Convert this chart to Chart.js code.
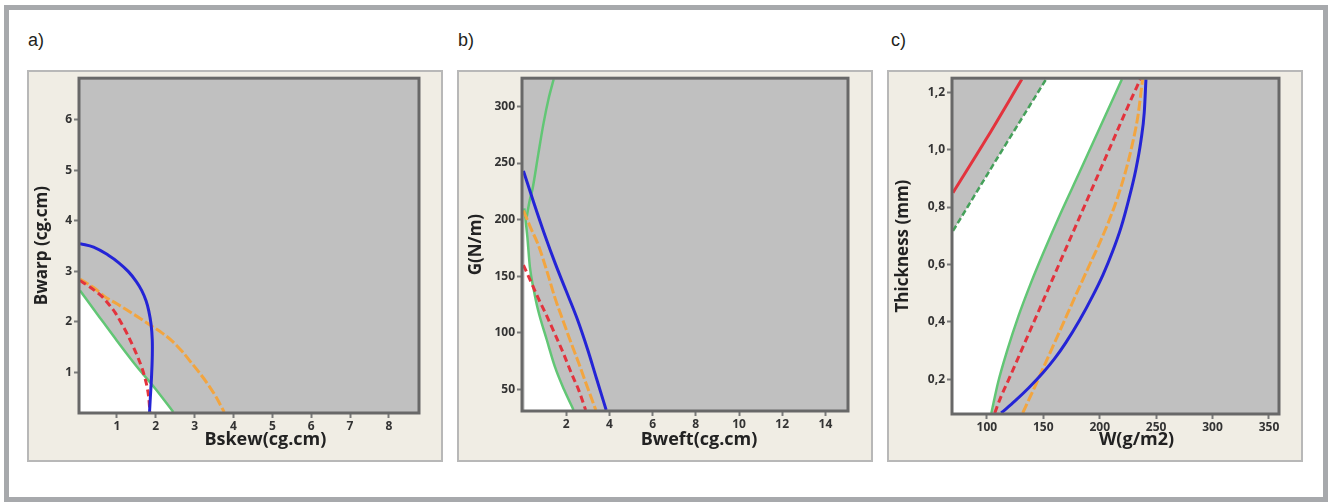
<!DOCTYPE html>
<html>
<head>
<meta charset="utf-8">
<script src="https://cdn.jsdelivr.net/npm/chart.js@4.4.1/dist/chart.umd.min.js"></script>
<style>
  html, body { margin: 0; padding: 0; background: #fff; }
  body { width: 1328px; height: 502px; position: relative; overflow: hidden; font-family: 'Liberation Sans', Arial, sans-serif; }
  .frame { position: absolute; left: 4px; top: 5px; width: 1324px; height: 497px; box-sizing: border-box; border: 5px solid #a7a9ac; }
  .tag { position: absolute; top: 30px; font-size: 18px; color: #231f20; }
  .panel { position: absolute; top: 70px; width: 416px; height: 392px; background: #f0ede4; box-shadow: inset 0 0 0 2px #b8b8b8; }
  .panel canvas { position: absolute; left: 0; top: 0; }
</style>
</head>
<body>
<div class="frame"></div>
<div class="tag" style="left:28px">a)</div>
<div class="tag" style="left:458px">b)</div>
<div class="tag" style="left:891px">c)</div>
<div class="panel" style="left:27px"><canvas id="chartA" width="416" height="392"></canvas></div>
<div class="panel" style="left:457px"><canvas id="chartB" width="416" height="392"></canvas></div>
<div class="panel" style="left:887px"><canvas id="chartC" width="416" height="392"></canvas></div>

<script>
'use strict';

const PLOT_GRAY = '#c0c0c0';
const BLUE = '#2424d6';
const RED = '#e3333d';
const ORANGE = '#f2a540';
const GREEN = '#62c675';
const DARK_GREEN = '#45a05a';

// ---- a) Bskew vs Bwarp ----
const A_X_RANGE = [0.05, 8.75];
const A_Y_RANGE = [0.22, 6.8];
const A_X_TICKS = [1, 2, 3, 4, 5, 6, 7, 8];
const A_Y_TICKS = [1, 2, 3, 4, 5, 6];
const A_BLUE = [
    {x: 0.05, y: 3.55}, {x: 0.4, y: 3.48}, {x: 0.78, y: 3.32}, {x: 1.05, y: 3.17}, {x: 1.29, y: 3.0},
    {x: 1.5, y: 2.8}, {x: 1.64, y: 2.62}, {x: 1.75, y: 2.42}, {x: 1.82, y: 2.22}, {x: 1.88, y: 1.95},
    {x: 1.91, y: 1.65}, {x: 1.91, y: 1.3}, {x: 1.89, y: 0.9}, {x: 1.86, y: 0.5}, {x: 1.84, y: 0.22}
];
const A_ORANGE = [
    {x: 0.05, y: 2.85}, {x: 0.4, y: 2.68}, {x: 0.69, y: 2.5}, {x: 1.0, y: 2.36}, {x: 1.29, y: 2.22},
    {x: 1.6, y: 2.07}, {x: 1.85, y: 1.94}, {x: 2.15, y: 1.79}, {x: 2.41, y: 1.63}, {x: 2.7, y: 1.4},
    {x: 2.93, y: 1.18}, {x: 3.14, y: 0.98}, {x: 3.35, y: 0.76}, {x: 3.55, y: 0.52}, {x: 3.76, y: 0.22}
];
const A_RED = [
    {x: 0.05, y: 2.82}, {x: 0.25, y: 2.72}, {x: 0.43, y: 2.62}, {x: 0.62, y: 2.5}, {x: 0.78, y: 2.36},
    {x: 0.96, y: 2.18}, {x: 1.12, y: 1.97}, {x: 1.28, y: 1.74}, {x: 1.42, y: 1.51}, {x: 1.54, y: 1.3},
    {x: 1.64, y: 1.1}, {x: 1.72, y: 0.9}, {x: 1.78, y: 0.7}, {x: 1.82, y: 0.5}, {x: 1.85, y: 0.22}
];
const A_GREEN = [
    {x: 0.05, y: 2.62}, {x: 0.5, y: 2.15}, {x: 1.0, y: 1.63}, {x: 1.5, y: 1.13}, {x: 2.0, y: 0.67},
    {x: 2.45, y: 0.22}
];

// ---- b) Bweft vs G ----
const B_X_RANGE = [0, 15];
const B_Y_RANGE = [32, 324];
const B_X_TICKS = [2, 4, 6, 8, 10, 12, 14];
const B_Y_TICKS = [50, 100, 150, 200, 250, 300];
const B_BLUE = [
    {x: 0.02, y: 243}, {x: 0.5, y: 215}, {x: 1.0, y: 187}, {x: 1.5, y: 161}, {x: 2.0, y: 137},
    {x: 2.5, y: 113}, {x: 3.0, y: 85}, {x: 3.4, y: 60}, {x: 3.85, y: 32}
];
const B_ORANGE = [
    {x: 0.02, y: 208}, {x: 0.35, y: 193}, {x: 0.7, y: 178}, {x: 1.1, y: 155}, {x: 1.48, y: 131},
    {x: 1.87, y: 110}, {x: 2.25, y: 90}, {x: 2.57, y: 74}, {x: 2.87, y: 58}, {x: 3.37, y: 32}
];
const B_RED = [
    {x: 0.02, y: 160}, {x: 0.35, y: 146}, {x: 0.7, y: 131}, {x: 1.1, y: 115}, {x: 1.48, y: 99},
    {x: 1.87, y: 82}, {x: 2.25, y: 64}, {x: 2.57, y: 50}, {x: 2.9, y: 32}
];
const B_GREEN_LOW = [
    {x: 0.06, y: 210}, {x: 0.2, y: 185}, {x: 0.32, y: 158}, {x: 0.5, y: 138}, {x: 0.7, y: 120},
    {x: 1.1, y: 94}, {x: 1.48, y: 70}, {x: 1.9, y: 50}, {x: 2.34, y: 32}
];
const B_GREEN_HIGH = [
    {x: 0.15, y: 200}, {x: 0.3, y: 216}, {x: 0.45, y: 228}, {x: 0.7, y: 257}, {x: 0.95, y: 285},
    {x: 1.2, y: 308}, {x: 1.42, y: 324}
];

// ---- c) W vs Thickness ----
const C_X_RANGE = [70, 358];
const C_Y_RANGE = [0.083, 1.245];
const C_X_TICKS = [100, 150, 200, 250, 300, 350];
const C_Y_TICKS = [0.2, 0.4, 0.6, 0.8, 1.0, 1.2];
const C_RED_UPPER = [{x: 70, y: 0.85}, {x: 100, y: 1.04}, {x: 131, y: 1.245}];
const C_GREEN_UPPER = [{x: 70, y: 0.717}, {x: 110, y: 0.975}, {x: 152.5, y: 1.245}];
const C_GREEN = [
    {x: 104, y: 0.083}, {x: 110, y: 0.19}, {x: 118, y: 0.3}, {x: 128, y: 0.42}, {x: 139, y: 0.535},
    {x: 150, y: 0.64}, {x: 165, y: 0.775}, {x: 182, y: 0.92}, {x: 200, y: 1.075}, {x: 219.7, y: 1.245}
];
const C_RED = [
    {x: 107, y: 0.083}, {x: 112, y: 0.135}, {x: 120, y: 0.205}, {x: 135, y: 0.34}, {x: 150, y: 0.475},
    {x: 165, y: 0.61}, {x: 180, y: 0.745}, {x: 195, y: 0.88}, {x: 210, y: 1.015}, {x: 225, y: 1.15},
    {x: 236, y: 1.245}
];
const C_ORANGE = [
    {x: 131.8, y: 0.083}, {x: 142, y: 0.17}, {x: 152.5, y: 0.262}, {x: 166, y: 0.38}, {x: 179, y: 0.495},
    {x: 190, y: 0.59}, {x: 200, y: 0.675}, {x: 208, y: 0.75}, {x: 216, y: 0.835}, {x: 223, y: 0.925},
    {x: 229, y: 1.02}, {x: 234, y: 1.12}, {x: 238, y: 1.245}
];
const C_BLUE = [
    {x: 112.7, y: 0.083}, {x: 125, y: 0.125}, {x: 137, y: 0.17}, {x: 149.5, y: 0.222}, {x: 160, y: 0.272},
    {x: 170, y: 0.328}, {x: 182, y: 0.405}, {x: 193.7, y: 0.49}, {x: 203, y: 0.565}, {x: 211.4, y: 0.645},
    {x: 219, y: 0.73}, {x: 226, y: 0.83}, {x: 232, y: 0.93}, {x: 236.5, y: 1.03}, {x: 239.5, y: 1.13},
    {x: 241, y: 1.245}
];

const TICK_FONT = { family: "'Open Sans', sans-serif", size: 12, weight: 'bold' };
const X_TITLE_FONT = { family: "'Open Sans', sans-serif", size: 18, weight: 'bold', lineHeight: 1.2 };
const Y_TITLE_FONT = { family: "'Open Sans', sans-serif", size: 17, weight: 'bold', lineHeight: 1.2 };

// gray plot background + dark frame around the chart area
const plotFrame = {
    id: 'plotFrame',
    beforeDatasetsDraw(chart) {
        const { ctx, chartArea: a } = chart;
        ctx.save();
        ctx.fillStyle = PLOT_GRAY;
        ctx.fillRect(a.left, a.top, a.width, a.height);
        ctx.restore();
    },
    afterDatasetsDraw(chart) {
        const { ctx, chartArea: a } = chart;
        ctx.save();
        ctx.strokeStyle = '#686868';
        ctx.lineWidth = 3;
        ctx.strokeRect(a.left - 1, a.top - 1, a.width + 2, a.height + 2);
        ctx.restore();
    }
};

function curve(data, color, opts) {
    return Object.assign({
        data: data,
        borderColor: color,
        borderWidth: 3,
        pointRadius: 0,
        cubicInterpolationMode: 'monotone',
        fill: false
    }, opts || {});
}

function axis(p) {
    return {
        type: 'linear',
        min: p.range[0],
        max: p.range[1],
        afterBuildTicks: s => { s.ticks = p.ticks.map(v => ({ value: v })); },
        afterFit: p.fit,
        grid: { drawOnChartArea: false, drawTicks: true, tickLength: 6, tickColor: '#7a7a7a', tickWidth: 2 },
        border: { display: false },
        ticks: { color: '#333', font: TICK_FONT, padding: p.pad, callback: p.fmt },
        title: { display: true, text: p.title, color: '#222', font: p.font, padding: p.titlePad }
    };
}

function makeChart(id, p) {
    return new Chart(document.getElementById(id), {
        type: 'line',
        data: { datasets: p.datasets },
        options: {
            responsive: false,
            animation: false,
            layout: { padding: { top: 8, right: p.padRight, left: 0, bottom: 0 } },
            plugins: { legend: { display: false }, tooltip: { enabled: false } },
            scales: {
                x: axis({
                    range: p.xRange, ticks: p.xTicks, pad: 1, fmt: p.xFmt,
                    fit: s => { s.height = p.bottom; },
                    // leading spaces push the title right, as in the original figure
                    title: ' '.repeat(p.xShift) + p.xTitle, font: X_TITLE_FONT, titlePad: { top: 0, bottom: 11 }
                }),
                y: axis({
                    range: p.yRange, ticks: p.yTicks, pad: 2, fmt: p.yFmt,
                    fit: s => { s.width = p.left; },
                    title: p.yTitle, font: Y_TITLE_FONT, titlePad: { top: p.yTitlePad, bottom: 0 }
                })
            }
        },
        plugins: [plotFrame]
    });
}

const plain = v => String(v);
const comma = v => v.toFixed(1).replace('.', ',');

const ORANGE_STYLE = { borderDash: [10, 3], borderWidth: 3 };
const RED_STYLE = { borderDash: [7, 4] };

makeChart('chartA', {
    xRange: A_X_RANGE, yRange: A_Y_RANGE, xTicks: A_X_TICKS, yTicks: A_Y_TICKS,
    xFmt: plain, yFmt: plain,
    xTitle: 'Bskew(cg.cm)', yTitle: 'Bwarp (cg.cm)', xShift: 7, yTitlePad: 5,
    left: 53, bottom: 50, padRight: 25,
    datasets: [
        // the blue curve turns back in x, so a plain bezier is used here
        curve(A_BLUE, BLUE, { cubicInterpolationMode: 'default', tension: 0.4 }),
        curve(A_RED, RED, RED_STYLE),
        curve(A_ORANGE, ORANGE, ORANGE_STYLE),
        curve(A_GREEN, GREEN, { borderWidth: 2.5, fill: 'start', backgroundColor: '#ffffff' })
    ]
});

makeChart('chartB', {
    xRange: B_X_RANGE, yRange: B_Y_RANGE, xTicks: B_X_TICKS, yTicks: B_Y_TICKS,
    xFmt: plain, yFmt: plain,
    xTitle: 'Bweft(cg.cm)', yTitle: 'G(N/m)', xShift: 6, yTitlePad: 9,
    left: 66, bottom: 52, padRight: 26,
    datasets: [
        curve(B_BLUE, BLUE),
        curve(B_ORANGE, ORANGE, ORANGE_STYLE),
        curve(B_RED, RED, RED_STYLE),
        curve(B_GREEN_HIGH, GREEN, { borderWidth: 2.5 }),
        curve(B_GREEN_LOW, GREEN, { borderWidth: 2.5, fill: 'start', backgroundColor: '#ffffff' })
    ]
});

makeChart('chartC', {
    xRange: C_X_RANGE, yRange: C_Y_RANGE, xTicks: C_X_TICKS, yTicks: C_Y_TICKS,
    xFmt: plain, yFmt: comma,
    xTitle: 'W(g/m2)', yTitle: 'Thickness (mm)', xShift: 9, yTitlePad: 6,
    left: 66, bottom: 49, padRight: 25,
    datasets: [
        curve(C_BLUE, BLUE),
        curve(C_ORANGE, ORANGE, ORANGE_STYLE),
        curve(C_RED, RED, RED_STYLE),
        curve(C_GREEN, GREEN, { borderWidth: 2.5 }),
        curve(C_RED_UPPER, RED),
        // everything above-left of the dashed green line is infeasible again
        curve(C_GREEN_UPPER, DARK_GREEN, { borderWidth: 2.5, borderDash: [6, 3], fill: 'end', backgroundColor: PLOT_GRAY }),
        // feasible (white) side of the solid green boundary
        curve([{ x: C_X_RANGE[0], y: C_Y_RANGE[0] }].concat(C_GREEN), 'rgba(0,0,0,0)',
              { borderWidth: 0, fill: 'end', backgroundColor: '#ffffff' })
    ]
});
</script>
</body>
</html>
